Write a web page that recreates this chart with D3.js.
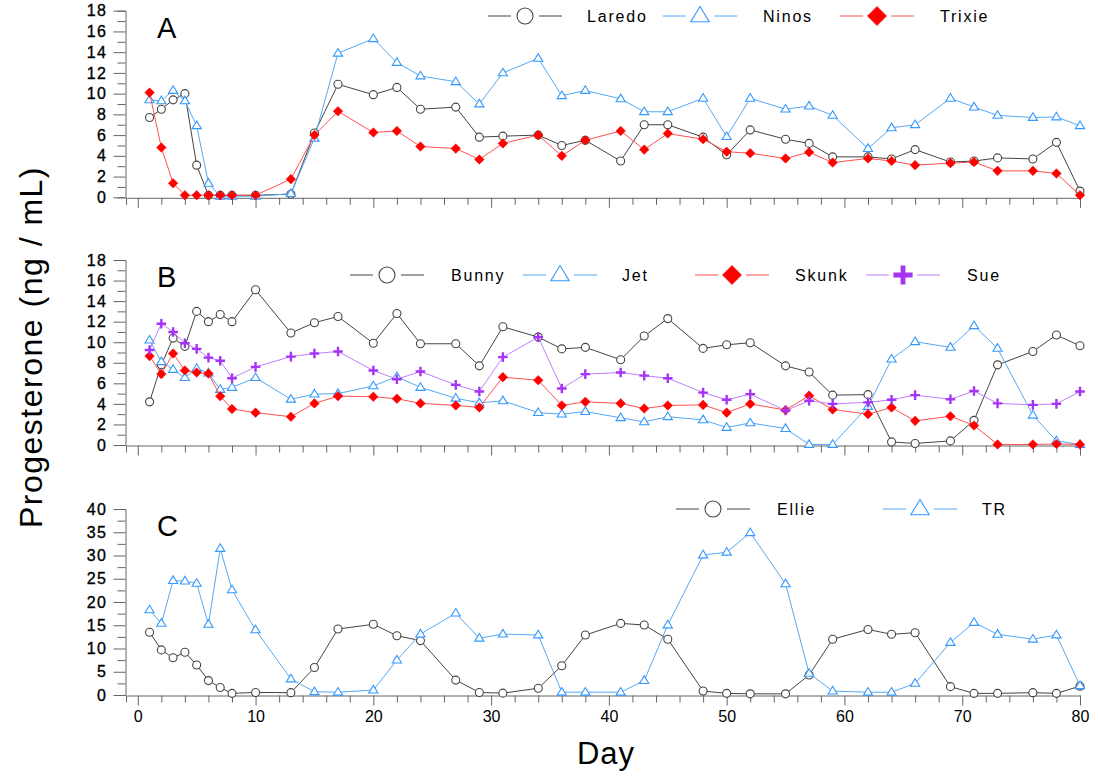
<!DOCTYPE html>
<html>
<head>
<meta charset="utf-8">
<script src="https://cdn.jsdelivr.net/npm/d3@7"></script>
<style>
    body { margin: 0; background: #fff; }
    svg { display: block; }
    text { font-family: "Liberation Sans", Arial, sans-serif; }
</style>
</head>
<body>
<div id="chart"></div>
<script>
let days = [1, 2, 3, 4, 5, 6, 7, 8, 10, 13, 15, 17, 20, 22, 24, 27, 29, 31, 34, 36, 38, 41, 43, 45, 48, 50, 52, 55, 57, 59, 62, 64, 66, 69, 71, 73, 76, 78, 80];

// panel A
let laredo = [7.7, 8.5, 9.4, 10.0, 3.1, 0.2, 0.2, 0.2, 0.2, 0.3, 6.2, 10.9, 9.9, 10.6, 8.5, 8.7, 5.8, 5.9, 6.0, 5.0, 5.5, 3.5, 7.0, 7.0, 5.8, 4.1, 6.5, 5.6, 5.2, 3.9, 3.9, 3.7, 4.6, 3.4, 3.5, 3.8, 3.7, 5.3, 0.6];
let ninos = [9.4, 9.3, 10.3, 9.3, 6.9, 1.35, 0.1, 0.1, 0.1, 0.35, 5.7, 13.9, 15.3, 13.0, 11.7, 11.15, 9.0, 12.0, 13.4, 9.8, 10.3, 9.5, 8.25, 8.25, 9.55, 5.85, 9.55, 8.5, 8.8, 7.9, 4.7, 6.7, 7.0, 9.55, 8.7, 7.9, 7.7, 7.75, 6.9];
let trixie = [10.1, 4.8, 1.35, 0.2, 0.2, 0.2, 0.2, 0.2, 0.2, 1.75, 6.0, 8.3, 6.25, 6.4, 4.9, 4.7, 3.65, 5.2, 6.0, 4.0, 5.5, 6.4, 4.6, 6.15, 5.6, 4.4, 4.25, 3.75, 4.35, 3.35, 3.75, 3.5, 3.1, 3.3, 3.4, 2.55, 2.55, 2.3, 0.2];

// panel B
let bunny = [4.2, 7.8, 10.4, 9.6, 13.0, 12.0, 12.7, 12.0, 15.1, 10.9, 11.9, 12.5, 9.9, 12.8, 9.85, 9.85, 7.7, 11.5, 10.5, 9.35, 9.5, 8.3, 10.6, 12.3, 9.4, 9.75, 9.95, 7.7, 7.1, 4.85, 4.9, 0.3, 0.15, 0.4, 2.4, 7.8, 9.1, 10.7, 9.65];
let jet = [10.2, 8.1, 7.35, 6.55, 7.45, 7.0, 5.4, 5.6, 6.55, 4.45, 4.95, 5.0, 5.75, 6.65, 5.6, 4.55, 4.1, 4.3, 3.15, 3.0, 3.25, 2.65, 2.25, 2.75, 2.45, 1.7, 2.15, 1.6, 0.05, 0.05, 3.75, 8.35, 10.05, 9.5, 11.6, 9.4, 2.9, 0.4, 0.05];
let skunk = [8.65, 6.9, 8.9, 7.25, 7.05, 6.95, 4.75, 3.5, 3.15, 2.75, 4.05, 4.75, 4.7, 4.5, 4.05, 3.85, 3.65, 6.6, 6.3, 3.85, 4.2, 4.05, 3.55, 3.85, 3.9, 3.15, 4.0, 3.4, 4.8, 3.45, 3.0, 3.65, 2.35, 2.8, 1.9, 0.05, 0.05, 0.1, 0.05];
let sue = [9.25, 11.8, 11.0, 9.9, 9.35, 8.5, 8.2, 6.5, 7.6, 8.6, 8.9, 9.1, 7.25, 6.4, 7.15, 5.85, 5.2, 8.55, 10.5, 5.5, 6.9, 7.05, 6.75, 6.5, 5.1, 4.4, 4.95, 3.35, 4.3, 4.0, 4.15, 4.4, 4.85, 4.45, 5.25, 4.05, 3.9, 4.0, 5.2];

// panel C
let ellie = [13.5, 9.7, 8.0, 9.2, 6.45, 3.1, 1.6, 0.35, 0.55, 0.5, 5.9, 14.2, 15.2, 12.75, 11.7, 3.2, 0.55, 0.4, 1.45, 6.3, 12.9, 15.4, 15.05, 12.0, 0.85, 0.35, 0.25, 0.25, 4.3, 12.0, 14.1, 13.05, 13.4, 1.8, 0.35, 0.35, 0.5, 0.35, 1.9];
let tr = [18.3, 15.4, 24.6, 24.5, 24.0, 15.2, 31.5, 22.6, 14.0, 3.45, 0.7, 0.6, 1.05, 7.5, 13.1, 17.6, 12.2, 13.1, 12.9, 0.6, 0.6, 0.6, 3.1, 15.05, 30.1, 30.7, 34.9, 23.9, 4.65, 0.85, 0.6, 0.6, 2.5, 11.3, 15.6, 13.05, 12.0, 12.9, 2.0];

let xTicks = [0, 10, 20, 30, 40, 50, 60, 70, 80];

let styles = {
    circle:   {line: "#444", stroke: "#444", fill: "#fff"},
    triangle: {line: "#55a8f5", stroke: "#3399ff", fill: "#fff"},
    diamond:  {line: "#ff5050", stroke: "#ff0000", fill: "#ff0000"},
    plus:     {line: "#bf80ff", stroke: "#a534f5", fill: "none"}
};

let panels = [
    {letter: "A", top: 10.7, bottom: 197.3, max: 18, minor: 1, major: 2, legendY: 16,
        series: [
            {name: "Laredo", values: laredo, shape: "circle", lx: 525, tx: 587},
            {name: "Ninos", values: ninos, shape: "triangle", lx: 700, tx: 763},
            {name: "Trixie", values: trixie, shape: "diamond", lx: 877, tx: 940}
        ]},
    {letter: "B", top: 260, bottom: 445, max: 18, minor: 1, major: 2, legendY: 275,
        series: [
            {name: "Bunny", values: bunny, shape: "circle", lx: 387, tx: 451},
            {name: "Jet", values: jet, shape: "triangle", lx: 560, tx: 622},
            {name: "Skunk", values: skunk, shape: "diamond", lx: 732, tx: 795},
            {name: "Sue", values: sue, shape: "plus", lx: 903, tx: 967}
        ]},
    {letter: "C", top: 509, bottom: 695, max: 40, minor: 2.5, major: 5, legendY: 509,
        series: [
            {name: "Ellie", values: ellie, shape: "circle", lx: 713, tx: 777},
            {name: "TR", values: tr, shape: "triangle", lx: 920, tx: 982}
        ]}
];

function markerPath(shape, s) {
    if (shape === "circle") return d3.symbol(d3.symbolCircle, Math.PI * s * s)();
    if (shape === "triangle") {
        let h = s * 1.9, w = s * 1.15;
        return "M0," + (-h * 0.62) + "L" + w + "," + (h * 0.38) + "L" + (-w) + "," + (h * 0.38) + "Z";
    }
    if (shape === "diamond") return "M0," + (-s * 1.2) + "L" + (s * 1.2) + ",0L0," + (s * 1.2) + "L" + (-s * 1.2) + ",0Z";
    return "M" + (-s * 1.2) + ",0H" + (s * 1.2) + "M0," + (-s * 1.2) + "V" + (s * 1.2);
}

function drawMarker(g, shape, x, y, s) {
    let st = styles[shape];
    g.append("path")
        .attr("transform", "translate(" + x + "," + y + ")")
        .attr("d", markerPath(shape, s))
        .attr("fill", st.fill)
        .attr("stroke", st.stroke)
        .attr("stroke-width", shape === "plus" ? s * 0.6 : (shape === "diamond" ? 0.5 : 1.1));
}

let svg = d3.select("#chart").append("svg")
    .attr("width", 1098)
    .attr("height", 776);

let xScale = d3.scaleLinear().domain([-1, 80]).range([126, 1080]);

panels.forEach((p) => {
    let yScale = d3.scaleLinear().domain([0, p.max]).range([p.bottom, p.top]);
    let g = svg.append("g");

    // y axis: minor ticks every p.minor, labels every p.major
    let yMinor = d3.range(0, p.max + 0.001, p.minor);
    let yAxis = g.append("g")
        .attr("transform", "translate(125.5,0)")
        .call(d3.axisLeft(yScale)
            .tickValues(yMinor)
            .tickSizeOuter(0)
            .tickSize(8)
            .tickPadding(6)
            .tickFormat((d) => Math.abs(d / p.major - Math.round(d / p.major)) < 1e-6 ? d : ""));
    yAxis.select(".domain").attr("stroke", "#666");
    yAxis.selectAll(".tick line").attr("stroke", "#666")
        .attr("x2", (d) => Math.abs(d / p.major - Math.round(d / p.major)) < 1e-6 ? -12 : -8);
    yAxis.selectAll(".tick text")
        .attr("x", -18)
        .style("font-size", "16px")
        .style("letter-spacing", "1.5px")
        .attr("fill", "#000")
        .attr("stroke", "#000")
        .attr("stroke-width", 0.35);

    // x axis
    let xAxis = g.append("g")
        .attr("transform", "translate(0," + (p.bottom + 0.5) + ")")
        .call(d3.axisBottom(xScale)
            .tickValues(d3.range(0, 81, 2))
            .tickSizeOuter(0)
            .tickSize(7)
            .tickPadding(8)
            .tickFormat((d) => p.letter === "C" && d % 10 === 0 ? d : ""));
    xAxis.select(".domain").attr("stroke", "#666");
    xAxis.selectAll(".tick line").attr("stroke", "#666")
        .attr("y2", (d) => d % 10 === 0 ? 10 : 7);
    xAxis.selectAll(".tick text")
        .style("font-size", "16px")
        .attr("fill", "#000");

    // panel letter
    g.append("text")
        .attr("x", 157)
        .attr("y", p.top + 27)
        .style("font-size", "29px")
        .attr("fill", "#000")
        .text(p.letter);

    // series
    p.series.forEach((s) => {
        let pts = days.map((d, i) => ({day: d, value: s.values[i]}));
        let st = styles[s.shape];
        let line = d3.line()
            .x((d) => xScale(d.day))
            .y((d) => yScale(d.value));
        g.append("path")
            .datum(pts)
            .attr("d", line)
            .attr("fill", "none")
            .attr("stroke", st.line)
            .attr("stroke-width", 1);
        let mg = g.append("g");
        pts.forEach((d) => drawMarker(mg, s.shape, xScale(d.day), yScale(d.value), 4));

        // legend entry
        let lg = g.append("g");
        [[-37, -14], [14, 37]].forEach((seg) => {
            lg.append("line")
                .attr("x1", s.lx + seg[0]).attr("x2", s.lx + seg[1])
                .attr("y1", p.legendY).attr("y2", p.legendY)
                .attr("stroke", st.line)
                .attr("stroke-width", 1);
        });
        drawMarker(lg, s.shape, s.lx, p.legendY, 8);
        lg.append("text")
            .attr("x", s.tx)
            .attr("y", p.legendY + 6)
            .style("font-size", "16px")
            .style("letter-spacing", "1.8px")
            .attr("fill", "#000")
            .text(s.name);
    });
});

// axis titles
svg.append("text")
    .attr("transform", "translate(42,347) rotate(-90)")
    .attr("text-anchor", "middle")
    .style("font-size", "32px")
    .style("letter-spacing", "1.5px")
    .attr("fill", "#000")
    .text("Progesterone  (ng / mL)");

svg.append("text")
    .attr("x", 606)
    .attr("y", 764)
    .attr("text-anchor", "middle")
    .style("font-size", "31px")
    .style("letter-spacing", "1px")
    .attr("fill", "#000")
    .text("Day");
</script>
</body>
</html>
